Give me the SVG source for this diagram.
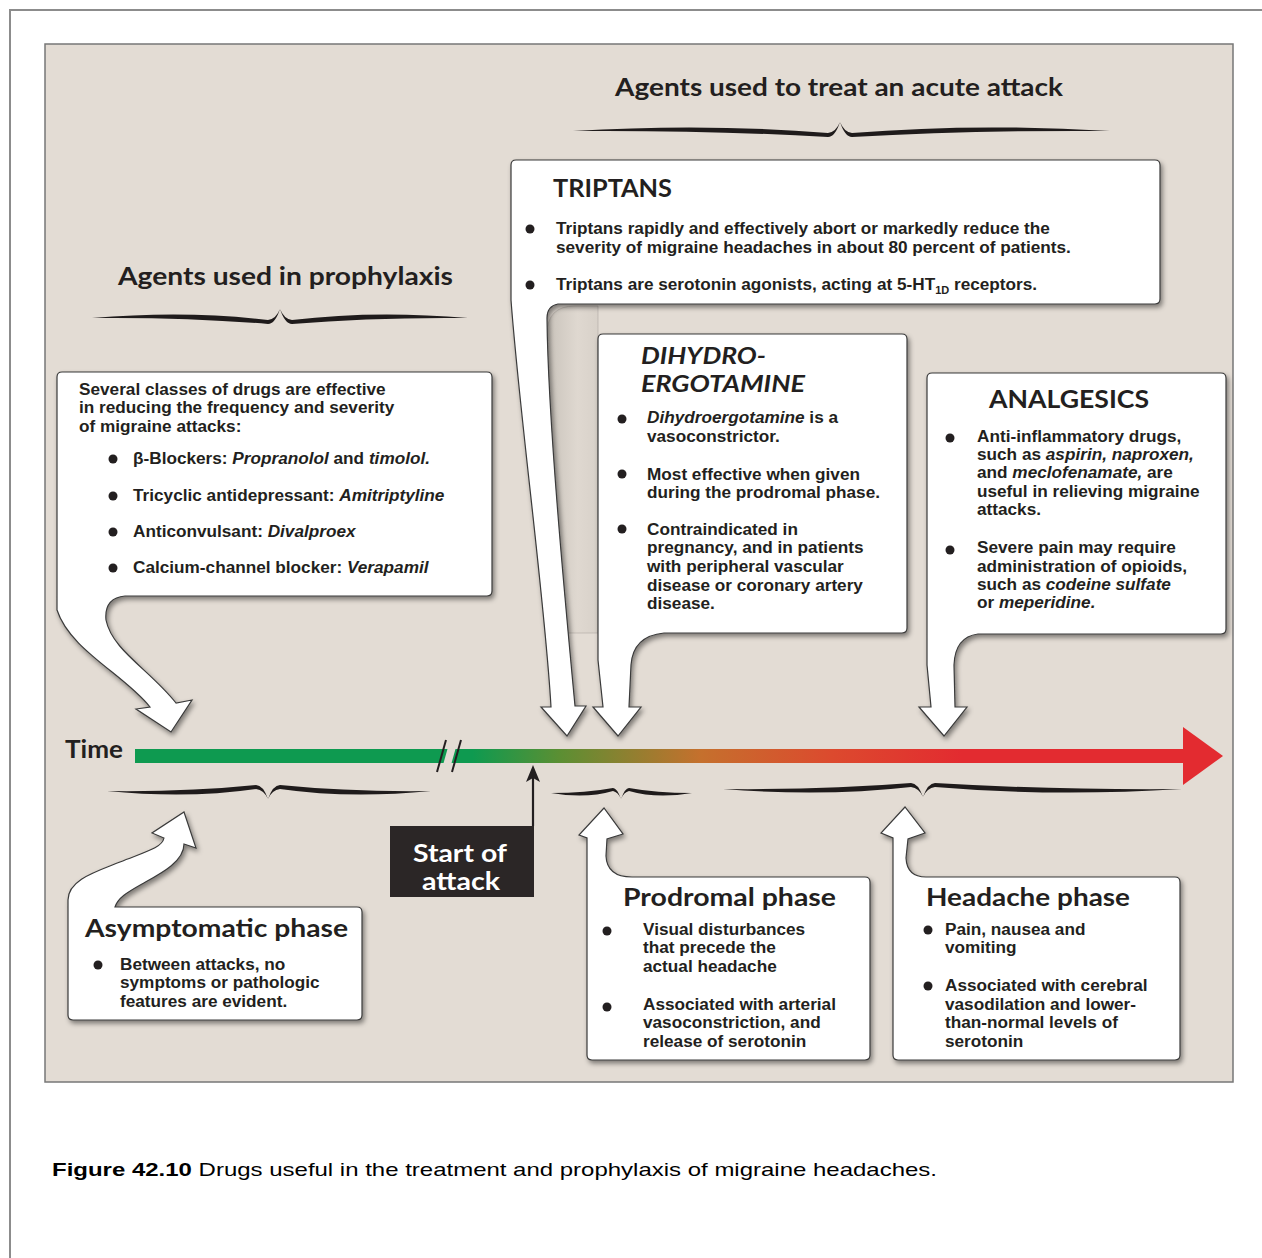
<svg xmlns="http://www.w3.org/2000/svg" width="1262" height="1258" viewBox="0 0 1262 1258">
<defs>
<style>
.t{font-family:Lato,'Liberation Sans',sans-serif;font-weight:700;fill:#231f20}
.h{font-size:25px}
.b{font-family:'Liberation Sans',Arial,sans-serif;font-size:17.2px}
.i{font-style:italic}
.box{fill:#fff;stroke:#3a3a3a;stroke-width:1.2;filter:url(#sh)}
.br{fill:#1f1b1b}
.bu{fill:#231f20}
.cap{font-family:'Liberation Sans',Arial,sans-serif;font-size:19px;fill:#000}
</style>
<filter id="sh" x="-10%" y="-10%" width="130%" height="130%">
<feDropShadow dx="2" dy="3" stdDeviation="2.5" flood-color="#000" flood-opacity="0.45"/>
</filter>
<linearGradient id="tl" gradientUnits="userSpaceOnUse" x1="135" y1="0" x2="1223" y2="0">
<stop offset="0" stop-color="#0e9a50"/>
<stop offset="0.31" stop-color="#0e9a50"/>
<stop offset="0.39" stop-color="#5b8f33"/>
<stop offset="0.52" stop-color="#c5702d"/>
<stop offset="0.64" stop-color="#dc4a2e"/>
<stop offset="0.76" stop-color="#e32b30"/>
<stop offset="1" stop-color="#e32b30"/>
</linearGradient>
<linearGradient id="shade" x1="0" y1="0" x2="1" y2="0">
<stop offset="0" stop-color="#c9c3bb"/>
<stop offset="0.6" stop-color="#dfd8d0"/>
<stop offset="1" stop-color="#d8d1c9"/>
</linearGradient>
</defs>
<rect width="1262" height="1258" fill="#fff"/>
<path d="M10,1258 V10 H1262" fill="none" stroke="#8c8c8c" stroke-width="2"/>
<rect x="45" y="44" width="1188" height="1038" fill="#e3dcd4" stroke="#777" stroke-width="1.5"/>

<text class="t h" x="615" y="96" textLength="448" lengthAdjust="spacingAndGlyphs">Agents used to treat an acute attack</text>
<text class="t h" x="118" y="285" textLength="335" lengthAdjust="spacingAndGlyphs">Agents used in prophylaxis</text>

<g id="braces">
<path class="br" d="M573,131 Q706.5,123 828,133 Q836,132 840,122 Q835,137 828,137 Q706.5,130 573,131 Z"/>
<path class="br" d="M1110,131 Q975,123 852,133 Q844,132 840,122 Q845,137 852,137 Q975,130 1110,131 Z"/>
<path class="br" d="M92,318 Q186,310 268,320 Q276,319 280,309 Q275,324 268,324 Q186,317 92,318 Z"/>
<path class="br" d="M468,318 Q374,310 292,320 Q284,319 280,309 Q285,324 292,324 Q374,317 468,318 Z"/>
<path class="br" d="M107,791 Q187.5,799 256,789 Q264,790 268,799 Q263,785 256,785 Q187.5,792 107,791 Z"/>
<path class="br" d="M431,791 Q349.5,799 280,789 Q272,790 268,799 Q273,785 280,785 Q349.5,792 431,791 Z"/>
<path class="br" d="M551,793 Q586,799 613,791 Q618,792 621,799 Q617,788 613,788 Q586,793 551,793 Z"/>
<path class="br" d="M692,793 Q656.5,799 629,791 Q624,792 621,799 Q625,788 629,788 Q656.5,793 692,793 Z"/>
<path class="br" d="M723,789 Q823,797 911,787 Q919,788 923,797 Q918,783 911,783 Q823,790 723,789 Z"/>
<path class="br" d="M1182,789 Q1052.5,797 935,787 Q927,788 923,797 Q928,783 935,783 Q1052.5,790 1182,789 Z"/>
</g>

<path d="M598,306 H575 Q547,306 547,334 V633 H598 Z" fill="url(#shade)" stroke="#b0aaa2" stroke-width="0.6"/>

<g id="timeline">
<rect x="135" y="749" width="1052" height="14" fill="url(#tl)"/>
<polygon points="1183,727 1223,756 1183,785" fill="#e32b30"/>
<polygon points="441,772 450,740 458,740 449,772" fill="#e3dcd4"/>
<line x1="437" y1="772" x2="446" y2="740" stroke="#231f20" stroke-width="2"/>
<line x1="452" y1="772" x2="461" y2="740" stroke="#231f20" stroke-width="2"/>
<text class="t" x="65" y="758" font-size="24" textLength="58" lengthAdjust="spacingAndGlyphs">Time</text>
</g>

<g id="node-prophylaxis">
<path class="box" d="M62,372 H487 Q492,372 492,377 V591 Q492,596 487,596 H125 Q104,598 106,620 C112,650 150,670 176,703 L192,700 L171,732 L136,709 L150,707 C125,675 70,650 57,610 V377 Q57,372 62,372 Z"/>
<text class="t b" x="79" y="395">Several classes of drugs are effective</text>
<text class="t b" x="79" y="413">in reducing the frequency and severity</text>
<text class="t b" x="79" y="432">of migraine attacks:</text>
<circle class="bu" cx="113" cy="459" r="4.5"/>
<circle class="bu" cx="113" cy="496" r="4.5"/>
<circle class="bu" cx="113" cy="532" r="4.5"/>
<circle class="bu" cx="113" cy="568" r="4.5"/>
<text class="t b" x="133" y="464">β-Blockers: <tspan class="i">Propranolol</tspan> and <tspan class="i">timolol.</tspan></text>
<text class="t b" x="133" y="501">Tricyclic antidepressant: <tspan class="i">Amitriptyline</tspan></text>
<text class="t b" x="133" y="537">Anticonvulsant: <tspan class="i">Divalproex</tspan></text>
<text class="t b" x="133" y="573">Calcium-channel blocker: <tspan class="i">Verapamil</tspan></text>
</g>

<g id="node-triptans">
<path class="box" d="M516,160 H1155 Q1160,160 1160,165 V299 Q1160,304 1155,304 H558 Q547,306 547,318 C548,420 565,600 575,706 L586,706 L567,736 L541,707 L551,707 C545,600 520,420 511,300 V165 Q511,160 516,160 Z"/>
<text class="t h" x="553" y="197" textLength="119" lengthAdjust="spacingAndGlyphs">TRIPTANS</text>
<circle class="bu" cx="530" cy="229" r="4.5"/>
<circle class="bu" cx="530" cy="285" r="4.5"/>
<text class="t b" x="556" y="234">Triptans rapidly and effectively abort or markedly reduce the</text>
<text class="t b" x="556" y="253">severity of migraine headaches in about 80 percent of patients.</text>
<text class="t b" x="556" y="290">Triptans are serotonin agonists, acting at 5-HT<tspan font-size="11" dy="4">1D</tspan><tspan dy="-4"> receptors.</tspan></text>
</g>

<g id="node-dihydroergotamine">
<path class="box" d="M603,334 H902 Q907,334 907,339 V628 Q907,633 902,633 H664 Q633,636 631,665 L629,707 L641,707 L618,736 L593,707 L603,707 L598,660 V339 Q598,334 603,334 Z"/>
<text class="t i" x="641" y="364" font-size="23" textLength="125" lengthAdjust="spacingAndGlyphs">DIHYDRO-</text>
<text class="t i" x="641" y="392" font-size="23" textLength="164" lengthAdjust="spacingAndGlyphs">ERGOTAMINE</text>
<circle class="bu" cx="622" cy="419" r="4.5"/>
<circle class="bu" cx="622" cy="474" r="4.5"/>
<circle class="bu" cx="622" cy="529" r="4.5"/>
<text class="t b" x="647" y="423"><tspan class="i">Dihydroergotamine</tspan> is a</text>
<text class="t b" x="647" y="442">vasoconstrictor.</text>
<text class="t b" x="647" y="480">Most effective when given</text>
<text class="t b" x="647" y="498">during the prodromal phase.</text>
<text class="t b" x="647" y="535">Contraindicated in</text>
<text class="t b" x="647" y="553">pregnancy, and in patients</text>
<text class="t b" x="647" y="572">with peripheral vascular</text>
<text class="t b" x="647" y="591">disease or coronary artery</text>
<text class="t b" x="647" y="609">disease.</text>
</g>

<g id="node-analgesics">
<path class="box" d="M932,373 H1221 Q1226,373 1226,378 V629 Q1226,634 1221,634 H978 Q955,637 954,665 L955,707 L967,707 L944,736 L919,707 L931,707 L927,665 V378 Q927,373 932,373 Z"/>
<text class="t h" x="989" y="408" textLength="160" lengthAdjust="spacingAndGlyphs">ANALGESICS</text>
<circle class="bu" cx="950" cy="438" r="4.5"/>
<circle class="bu" cx="950" cy="550" r="4.5"/>
<text class="t b" x="977" y="442">Anti-inflammatory drugs,</text>
<text class="t b" x="977" y="460">such as <tspan class="i">aspirin, naproxen,</tspan></text>
<text class="t b" x="977" y="478">and <tspan class="i">meclofenamate,</tspan> are</text>
<text class="t b" x="977" y="497">useful in relieving migraine</text>
<text class="t b" x="977" y="515">attacks.</text>
<text class="t b" x="977" y="553">Severe pain may require</text>
<text class="t b" x="977" y="572">administration of opioids,</text>
<text class="t b" x="977" y="590">such as <tspan class="i">codeine sulfate</tspan></text>
<text class="t b" x="977" y="608">or <tspan class="i">meperidine.</tspan></text>
</g>

<g id="node-start">
<rect x="390" y="826" width="144" height="71" fill="#2b2626"/>
<text class="t" x="413" y="862" font-size="25" textLength="94" lengthAdjust="spacingAndGlyphs" style="fill:#fff">Start of</text>
<text class="t" x="422" y="890" font-size="25" textLength="78" lengthAdjust="spacingAndGlyphs" style="fill:#fff">attack</text>
</g>

<g id="node-asymptomatic">
<path class="box" d="M115,907 H357 Q362,907 362,912 V1015 Q362,1020 357,1020 H73 Q68,1020 68,1015 V900 C68,880 95,872 120,862 C145,852 162,848 164,838 L152,833 L184,812 L196,848 L184,844 C184,862 160,874 142,884 C126,893 118,898 115,907 Z"/>
<text class="t h" x="85" y="937" textLength="263" lengthAdjust="spacingAndGlyphs">Asymptomatic phase</text>
<circle class="bu" cx="98" cy="965" r="4.5"/>
<text class="t b" x="120" y="970">Between attacks, no</text>
<text class="t b" x="120" y="988">symptoms or pathologic</text>
<text class="t b" x="120" y="1007">features are evident.</text>
</g>

<g id="node-prodromal">
<path class="box" d="M632,877 H865 Q870,877 870,882 V1055 Q870,1060 865,1060 H592 Q587,1060 587,1055 V838 L579,835 L604,808 L623,834 L607,839 L606,856 Q607,877 632,877 Z"/>
<text class="t h" x="623" y="906" textLength="213" lengthAdjust="spacingAndGlyphs">Prodromal phase</text>
<circle class="bu" cx="607" cy="931" r="4.5"/>
<circle class="bu" cx="607" cy="1007" r="4.5"/>
<text class="t b" x="643" y="935">Visual disturbances</text>
<text class="t b" x="643" y="953">that precede the</text>
<text class="t b" x="643" y="972">actual headache</text>
<text class="t b" x="643" y="1010">Associated with arterial</text>
<text class="t b" x="643" y="1028">vasoconstriction, and</text>
<text class="t b" x="643" y="1047">release of serotonin</text>
</g>

<g id="node-headache">
<path class="box" d="M926,877 H1175 Q1180,877 1180,882 V1055 Q1180,1060 1175,1060 H898 Q893,1060 893,1055 V838 L881,833 L905,807 L925,833 L908,839 L906,858 Q907,877 926,877 Z"/>
<text class="t h" x="926" y="906" textLength="204" lengthAdjust="spacingAndGlyphs">Headache phase</text>
<circle class="bu" cx="928" cy="930" r="4.5"/>
<circle class="bu" cx="928" cy="986" r="4.5"/>
<text class="t b" x="945" y="935">Pain, nausea and</text>
<text class="t b" x="945" y="953">vomiting</text>
<text class="t b" x="945" y="991">Associated with cerebral</text>
<text class="t b" x="945" y="1010">vasodilation and lower-</text>
<text class="t b" x="945" y="1028">than-normal levels of</text>
<text class="t b" x="945" y="1047">serotonin</text>
</g>

<g id="connectors">
<line x1="533" y1="826" x2="533" y2="776" stroke="#231f20" stroke-width="2.2"/>
<polygon points="533,765 526,782 533,778 540,782" fill="#231f20"/>
</g>

<text class="cap" x="52" y="1176" textLength="885" lengthAdjust="spacingAndGlyphs"><tspan font-weight="700">Figure 42.10</tspan> Drugs useful in the treatment and prophylaxis of migraine headaches.</text>
</svg>
